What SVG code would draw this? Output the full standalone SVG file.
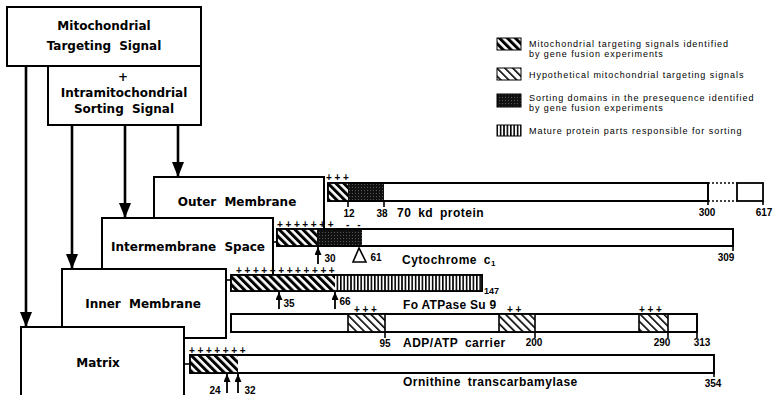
<svg xmlns="http://www.w3.org/2000/svg" width="773" height="395" viewBox="0 0 773 395">
<style>
.box{fill:none;stroke:#000;stroke-width:2}
.bar{stroke:#000;stroke-width:1.8}
.tick{stroke:#000;stroke-width:1.6;fill:none}
.big{stroke:#000;stroke-width:2.6;fill:none}
.sm{stroke:#000;stroke-width:1.8;fill:none}
.bt{font-family:"DejaVu Sans",sans-serif;font-weight:bold;font-size:12px;text-anchor:middle;word-spacing:4px;fill:#000}
.pl{font-family:"Liberation Sans",Arial,sans-serif;font-weight:bold;font-size:10px;letter-spacing:2.6px;fill:#000}
.num{font-family:"Liberation Sans",Arial,sans-serif;font-weight:bold;font-size:10px;text-anchor:middle;fill:#000}
.lab{font-family:"Liberation Sans",Arial,sans-serif;font-weight:bold;font-size:12px;letter-spacing:0.5px;word-spacing:3px;fill:#000}
.leg{font-family:"Liberation Sans",Arial,sans-serif;font-size:9px;letter-spacing:0.95px;fill:#000}
</style>
<defs>
<pattern id="hatch" patternUnits="userSpaceOnUse" width="5.6" height="5.6" patternTransform="rotate(-45)">
<rect width="5.6" height="5.6" fill="#fff"/><rect width="3" height="5.6" fill="#000"/>
</pattern>
<pattern id="hatchThin" patternUnits="userSpaceOnUse" width="5.6" height="5.6" patternTransform="rotate(-45)">
<rect width="5.6" height="5.6" fill="#fff"/><rect width="1.6" height="5.6" fill="#000"/>
</pattern>
<pattern id="sort" patternUnits="userSpaceOnUse" width="3" height="3">
<rect width="3" height="3" fill="#111"/><rect x="1" y="1" width="1" height="1" fill="#555"/>
</pattern>
<pattern id="vstripe" patternUnits="userSpaceOnUse" width="3.4" height="4">
<rect width="3.4" height="4" fill="#fff"/><rect width="1.6" height="4" fill="#000"/>
</pattern>
<marker id="bigHead" markerUnits="userSpaceOnUse" markerWidth="15" markerHeight="12" refX="15" refY="6" orient="auto">
<path d="M0,0 L15,6 L0,12 z" fill="#000"/>
</marker>
<marker id="smHead" markerUnits="userSpaceOnUse" markerWidth="8" markerHeight="7" refX="8" refY="3.5" orient="auto">
<path d="M0,0 L8,3.5 L0,7 z" fill="#000"/>
</marker>
</defs>
<rect width="773" height="395" fill="#fff"/>

<g id="targeting-signal">
<rect class="box" x="7" y="7" width="194" height="59" fill="#fff"/>
<text class="bt" x="104" y="30">Mitochondrial</text>
<text class="bt" x="104" y="50">Targeting Signal</text>
</g>
<g id="sorting-signal">
<rect class="box" x="48" y="66" width="153" height="59" fill="#fff"/>
<text class="bt" x="123" y="81">+</text>
<text class="bt" x="124" y="97">Intramitochondrial</text>
<text class="bt" x="124" y="113">Sorting Signal</text>
</g>
<g id="outer-membrane">
<path class="box" d="M154,218 V177 H324 V229"/>
<text class="bt" x="237" y="206">Outer Membrane</text>
</g>
<g id="intermembrane-space">
<path class="box" d="M102,269 V218 H273 V275"/>
<text class="bt" x="188" y="251">Intermembrane Space</text>
</g>
<g id="inner-membrane">
<path class="box" d="M62,327 V269 H226 V338 H184"/>
<text class="bt" x="143" y="308">Inner Membrane</text>
</g>
<g id="matrix">
<path class="box" d="M21,395 V327 H184 V395"/>
<text class="bt" x="98" y="367">Matrix</text>
</g>

<g id="connectors">
<line class="big" x1="26" y1="66" x2="26" y2="327" marker-end="url(#bigHead)"/>
<line class="big" x1="72" y1="125" x2="72" y2="269" marker-end="url(#bigHead)"/>
<line class="big" x1="125" y1="125" x2="125" y2="218" marker-end="url(#bigHead)"/>
<line class="big" x1="178" y1="125" x2="178" y2="177" marker-end="url(#bigHead)"/>
<line class="tick" x1="273" y1="242" x2="277" y2="242"/>
<line class="tick" x1="226" y1="280" x2="231" y2="280"/>
<line class="tick" x1="184" y1="364" x2="190" y2="364"/>
</g>

<g id="protein-70kd">
<text class="pl" x="326" y="180.5">+++</text>
<rect class="bar" x="328" y="183" width="380" height="18" fill="#fff"/>
<rect x="328" y="183" width="20" height="18" fill="url(#hatch)"/>
<rect x="348" y="183" width="36" height="18" fill="url(#sort)"/>
<rect class="bar" x="328" y="183" width="380" height="18" fill="none"/>
<path class="tick" d="M708,183 H737 M708,201 H737" stroke-dasharray="2,2"/>
<rect class="bar" x="737" y="183" width="26" height="18" fill="#fff"/>
<path class="tick" d="M348,201 V207 M384,201 V207 M708,201 V205 M763,201 V205"/>
<text class="num" x="349" y="217">12</text>
<text class="num" x="382" y="217">38</text>
<text class="lab" x="397" y="217">70 kd protein</text>
<text class="num" x="707" y="216">300</text>
<text class="num" x="764" y="216">617</text>
</g>

<g id="cytochrome-c1">
<text class="pl" x="277" y="227.5">+++++++</text>
<text class="pl" x="346" y="227.5">- -</text>
<rect class="bar" x="277" y="229" width="456" height="17" fill="#fff"/>
<rect x="277" y="229" width="40" height="17" fill="url(#hatch)"/>
<rect x="317" y="229" width="45" height="17" fill="url(#sort)"/>
<rect class="bar" x="277" y="229" width="456" height="17" fill="none"/>
<path class="tick" d="M733,246 V251"/>
<line class="sm" x1="318" y1="264" x2="318" y2="247" marker-end="url(#smHead)"/>
<text class="num" x="330" y="262">30</text>
<polygon points="359,248 353,262 366,262" fill="#fff" stroke="#000" stroke-width="1.6"/>
<text class="num" x="376" y="261">61</text>
<text class="lab" x="402" y="264">Cytochrome c<tspan font-size="8" dy="2">1</tspan></text>
<text class="num" x="726" y="261">309</text>
</g>

<g id="fo-atpase-su9">
<text class="pl" x="236" y="273.5">++++++++++++</text>
<rect class="bar" x="231" y="275" width="251" height="16" fill="#fff"/>
<rect x="231" y="275" width="104" height="16" fill="url(#hatch)"/>
<rect x="335" y="275" width="147" height="16" fill="url(#vstripe)"/>
<rect class="bar" x="231" y="275" width="251" height="16" fill="none"/>
<line class="sm" x1="279" y1="309" x2="279" y2="292" marker-end="url(#smHead)"/>
<text class="num" x="289" y="307">35</text>
<line class="sm" x1="335" y1="309" x2="335" y2="292" marker-end="url(#smHead)"/>
<text class="num" x="345" y="305">66</text>
<text class="num" x="484" y="294" style="text-anchor:start;font-size:9px">147</text>
<text class="lab" x="403" y="308.5" style="letter-spacing:0.3px;word-spacing:0">Fo ATPase Su 9</text>
</g>

<g id="adp-atp-carrier">
<text class="pl" x="354" y="312.5">+++</text>
<text class="pl" x="507" y="312.5">++</text>
<text class="pl" x="639" y="312.5">+++</text>
<rect class="bar" x="231" y="314" width="466" height="18" fill="#fff"/>
<rect x="348" y="314" width="37" height="18" fill="url(#hatchThin)"/>
<rect x="499" y="314" width="36" height="18" fill="url(#hatchThin)"/>
<rect x="639" y="314" width="29" height="18" fill="url(#hatchThin)"/>
<rect class="bar" x="231" y="314" width="466" height="18" fill="none"/>
<path class="tick" d="M348,314 V332 M385,314 V338 M499,314 V332 M535,314 V338 M639,314 V332 M668,314 V338 M697,332 V338"/>
<text class="num" x="385" y="347">95</text>
<text class="lab" x="403" y="347">ADP/ATP carrier</text>
<text class="num" x="534" y="346">200</text>
<text class="num" x="662" y="346">290</text>
<text class="num" x="702" y="346">313</text>
</g>

<g id="ornithine-transcarbamylase">
<text class="pl" x="189" y="353.5">+++++++</text>
<rect class="bar" x="190" y="355" width="524" height="18" fill="#fff"/>
<rect x="190" y="355" width="48" height="18" fill="url(#hatch)"/>
<rect class="bar" x="190" y="355" width="524" height="18" fill="none"/>
<path class="tick" d="M714,373 V377"/>
<line class="sm" x1="227" y1="393" x2="227" y2="374" marker-end="url(#smHead)"/>
<line class="sm" x1="238" y1="393" x2="238" y2="374" marker-end="url(#smHead)"/>
<text class="num" x="215" y="394">24</text>
<text class="num" x="250" y="394">32</text>
<text class="lab" x="403" y="386">Ornithine transcarbamylase</text>
<text class="num" x="713" y="387">354</text>
</g>

<g id="legend">
<rect x="497" y="38" width="24" height="12" fill="url(#hatch)" stroke="#000" stroke-width="1"/>
<text class="leg" x="529" y="47">Mitochondrial targeting signals identified</text>
<text class="leg" x="529" y="56.5">by gene fusion experiments</text>
<rect x="497" y="68" width="24" height="12" fill="url(#hatchThin)" stroke="#000" stroke-width="1"/>
<text class="leg" x="529" y="78">Hypothetical mitochondrial targeting signals</text>
<rect x="497" y="94" width="24" height="13" fill="url(#sort)" stroke="#000" stroke-width="1"/>
<text class="leg" x="529" y="101">Sorting domains in the presequence identified</text>
<text class="leg" x="529" y="110.5">by gene fusion experiments</text>
<rect x="497" y="125" width="24" height="11" fill="url(#vstripe)" stroke="#000" stroke-width="1"/>
<text class="leg" x="529" y="134">Mature protein parts responsible for sorting</text>
</g>
</svg>
